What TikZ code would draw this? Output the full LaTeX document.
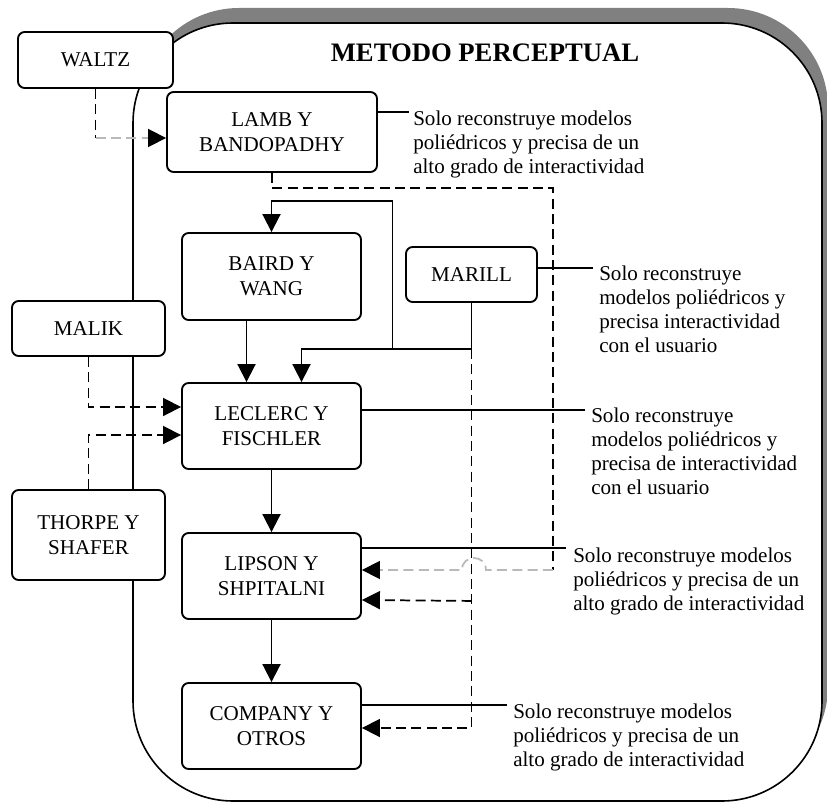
\documentclass[tikz,border=0pt]{standalone}
\usepackage{fontspec}
\setmainfont{Liberation Serif}
\usetikzlibrary{arrows.meta,calc}
\begin{document}
\begin{tikzpicture}[x=0.75pt, y=-0.75pt,
  caja/.style={draw, line width=1.4pt, rounded corners=5pt, fill=white, align=center, inner sep=0pt, font=\fontsize{15.8}{19}\selectfont},
  nota/.style={anchor=north west, align=left, inner sep=0pt, font=\fontsize{15.8}{18}\selectfont},
  linea/.style={line width=1.4pt},
  flecha/.style={line width=1.4pt, -{Triangle[length=13.5pt,width=13.5pt]}},
  guion/.style={line width=1.3pt, dash pattern=on 7.5pt off 4pt, -{Triangle[length=13.5pt,width=13.5pt,color=black]}}]
\useasboundingbox (0,0) rectangle (827,802);
\fill[gray, rounded corners=75pt] (139,8) rectangle (828,786);
\draw[line width=1.2pt, fill=white, rounded corners=75pt] (133,23) rectangle (822,801);
\node[font=\bfseries\fontsize{20}{24}\selectfont] (titulo) at (485,53) {METODO PERCEPTUAL};

\node[caja, minimum width=116.25pt, minimum height=42pt] (waltz) at (95.5,60) {WALTZ};
\node[caja, minimum width=157.5pt, minimum height=60pt] (lamb) at (272,132) {LAMB Y\\BANDOPADHY};
\node[caja, minimum width=134.25pt, minimum height=65.25pt] (baird) at (271.5,276.5) {BAIRD Y\\WANG};
\node[caja, minimum width=98.25pt, minimum height=41.25pt] (marill) at (471.5,274.5) {MARILL};
\node[caja, minimum width=114.75pt, minimum height=41.25pt] (malik) at (88.5,328.5) {MALIK};
\node[caja, minimum width=134.25pt, minimum height=64.5pt] (leclerc) at (271.5,426) {LECLERC Y\\FISCHLER};
\node[caja, minimum width=114.75pt, minimum height=67.5pt] (thorpe) at (88.5,535) {THORPE Y\\SHAFER};
\node[caja, minimum width=134.25pt, minimum height=64.5pt] (lipson) at (271.5,576) {LIPSON Y\\SHPITALNI};
\node[caja, minimum width=134.25pt, minimum height=64.5pt] (company) at (271.5,726) {COMPANY Y\\OTROS};

\node[nota] (n1) at (413,111) {Solo reconstruye modelos\\poliédricos y precisa de un\\alto grado de interactividad};
\node[nota] (n2) at (599,266) {Solo reconstruye\\modelos poliédricos y\\precisa interactividad\\con el usuario};
\node[nota] (n3) at (591,408) {Solo reconstruye\\modelos poliédricos y\\precisa de interactividad\\con el usuario};
\node[nota] (n4) at (573,548) {Solo reconstruye modelos\\poliédricos y precisa de un\\alto grado de interactividad};
\node[nota] (n5) at (513,704) {Solo reconstruye modelos\\poliédricos y precisa de un\\alto grado de interactividad};

\draw[linea] ($(lamb.east)+(0,-20)$) -- ($(n1.north west)+(-4,1)$);
\draw[linea] ($(marill.east)+(0,-6.5)$) -- ($(n2.north west)+(-6,2)$);
\draw[linea] ($(leclerc.east)+(0,-16)$) -- ($(n3.north west)+(-6,2)$);
\draw[linea] ($(lipson.east)+(0,-28)$) -- ($(n4.north west)+(-7,0)$);
\draw[linea] ($(company.east)+(0,-21)$) -- ($(n5.north west)+(-6,1)$);

\path (waltz.south) |- coordinate[pos=.5] (w1) ($(lamb.west)+(0,6)$);
\draw[guion,-] (waltz.south) -- (w1);
\draw[guion,gray!55] (w1) -- ($(lamb.west)+(0,6)$);

\coordinate (esq) at ($(lipson.east)+(191,-6)$);
\draw[guion,-] (lamb.south) -- ++(0,15) -| (esq);
\draw[guion,gray!55] (esq) -- ++(-67,0) .. controls +(0,-8) and +(6,0) .. ++(-12,-12) .. controls +(-6,0) and +(0,-8) .. ++(-12,12) -- ($(lipson.east)+(0,-6)$);

\coordinate (j1) at ($(marill.south)+(0,46)$);
\coordinate (j2) at ($(marill.south)+(-79,46)$);
\coordinate (j3) at ($(marill.south)+(0,298)$);
\draw[flecha] (marill.south) -- (j1) -| ($(leclerc.north)+(30,0)$);
\draw[flecha] (j2) -- ++(0,-148) -| (baird.north);
\draw[flecha] ($(baird.south)+(-25,0)$) -- ($(leclerc.north)+(-25,0)$);
\draw[flecha] (leclerc) -- (lipson);
\draw[flecha] (lipson) -- (company);

\draw[guion] (malik.south) |- ($(leclerc.west)+(0,-19)$);
\draw[guion] (thorpe.north) |- ($(leclerc.west)+(0,9)$);
\draw[guion] (j1) |- ($(company.east)+(0,2)$);
\draw[guion] (j3) -- ($(lipson.east)+(0,24)$);
\end{tikzpicture}
\end{document}
